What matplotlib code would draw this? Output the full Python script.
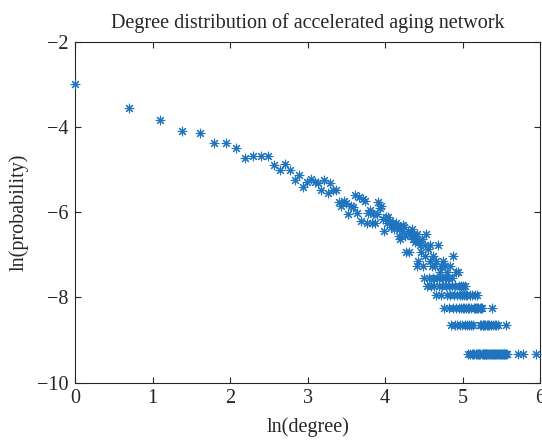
import numpy as np
import matplotlib
matplotlib.use("Agg")
import matplotlib.pyplot as plt

# total number of nodes (ln(1/N) sits at about -9.34)
n_nodes = 11400

# degrees read one by one from the upper part of the curve, with their counts
head_degree = [1, 2, 3, 4, 5, 6, 7, 8, 9, 10, 11, 12, 13, 14, 15, 16, 17, 18, 19, 20,
               21, 22, 23, 24, 25, 26, 27, 28, 29, 30, 31, 32, 33, 34, 35, 36, 37, 38, 39, 40,
               41, 42, 43, 44, 45, 46, 47, 48, 49, 50, 51, 52, 53, 54, 55, 56, 57, 58, 59, 60,
               61, 62, 63, 64, 65, 66, 67, 68, 69, 70, 71, 72, 73, 74, 75, 76, 77, 78, 79, 80,
               81, 82, 84, 85, 86, 87, 88, 91, 92, 93, 95, 97, 98, 101, 105, 108, 116, 131]
head_count = [570, 329, 246, 191, 183, 144, 144, 127, 100, 105, 107, 105, 85, 76, 87, 77, 60, 67, 51, 57,
              62, 58, 56, 48, 60, 44, 56, 48, 48, 36, 33, 37, 35, 27, 33, 32, 42, 28, 40, 23,
              39, 37, 22, 28, 30, 22, 27, 22, 27, 36, 31, 33, 24, 18, 25, 22, 25, 23, 20, 22,
              19, 21, 22, 20, 16, 15, 20, 18, 21, 20, 16, 11, 18, 11, 17, 16, 19, 15, 17, 14,
              16, 17, 9, 14, 13, 11, 15, 10, 13, 17, 12, 9, 13, 10, 9, 13, 9, 10]

# tail: degrees that sit on the low-count bands
deg_c8 = [83, 89, 100, 104, 113, 119, 126]
deg_c7 = [111, 121, 137, 140]
deg_c6 = [90, 96, 102, 107, 110, 115, 118, 123, 130]
deg_c5 = [94, 99, 103, 109, 114, 120, 124, 129, 135, 141, 146, 150, 153]
deg_c4 = [106, 112, 122, 127, 133, 138, 143, 147, 151, 155, 158, 163, 168, 175, 178]
deg_c3 = [117, 125, 132, 136, 142, 145, 149, 152, 156, 159, 162, 166, 171, 174, 177,
          180, 182, 185, 188, 190, 218]
deg_c2 = [128, 134, 139, 144, 148, 154, 157, 161, 165, 169, 186, 189, 192, 194, 197,
          199, 203, 207, 210, 214, 220, 225, 230, 236, 260]
deg_c1 = [160, 164, 167, 170, 173, 176, 179, 181, 183, 184, 187, 191, 193, 195, 196,
          198, 200, 201, 204, 206, 209, 211, 213, 216, 219, 222, 224, 227, 229, 232,
          234, 238, 240, 243, 245, 248, 250, 252, 255, 258, 261, 264, 304, 325, 383]

band_lists = {8: deg_c8, 7: deg_c7, 6: deg_c6, 5: deg_c5, 4: deg_c4, 3: deg_c3, 2: deg_c2, 1: deg_c1}

degree = list(head_degree)
count = list(head_count)
for c, degs in band_lists.items():
    degree += degs
    count += [c] * len(degs)

degree = np.array(degree, dtype=float)
count = np.array(count, dtype=float)
x = np.log(degree)
y = np.log(count / n_nodes)

plt.rcParams['font.family'] = ['Liberation Serif', 'DejaVu Serif']
plt.rcParams['axes.unicode_minus'] = True

fig = plt.figure(figsize=(5.42, 4.44), dpi=100)
ax = fig.add_axes([0.1384, 0.1385, 0.8580, 0.7670])

# markers are not clipped at the axes edge (point at ln(1) = 0 shows whole)
ax.plot(x, y, linestyle='none', marker=(8, 2, 0), markersize=6.8,
        markeredgewidth=0.8, color='#1f74c0', clip_on=False, zorder=3)

ax.set_xlim(0, 6)
ax.set_ylim(-10, -2)
ax.set_xticks([0, 1, 2, 3, 4, 5, 6])
ax.set_yticks([-10, -8, -6, -4, -2])
ax.tick_params(direction='in', length=4, width=0.8, top=True, right=True,
               labelsize=14.5, colors='#262626', pad=5)
for s in ax.spines.values():
    s.set_linewidth(0.8)
    s.set_color('#262626')

ax.set_xlabel('ln(degree)', fontsize=14.5, color='#262626', labelpad=6)
ax.set_ylabel('ln(probability)', fontsize=14.5, color='#262626', labelpad=6)
ax.set_title('Degree distribution of accelerated aging network', fontsize=14.5,
             color='#262626', pad=10)

fig.savefig('out.png', dpi=100)
